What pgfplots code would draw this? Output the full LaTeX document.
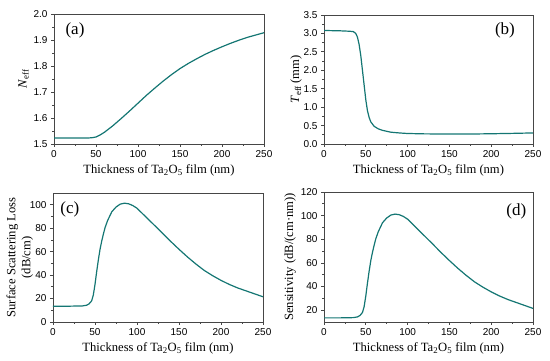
\documentclass[border=0pt]{standalone}
\usepackage{pgfplots}
\pgfplotsset{compat=1.18}
\usepackage{fontspec}
\setmainfont{Liberation Serif}
\newfontfamily\arial{Liberation Sans}
\definecolor{tealcol}{RGB}{20,118,115}
\definecolor{axgray}{RGB}{70,70,70}
\pgfplotsset{
 panel/.style={
  scale only axis, width=210pt, height=130pt,
  axis line style={axgray, line width=0.9pt},
  xmin=0, xmax=250, xtick={0,50,...,250}, minor x tick num=1, minor y tick num=1,
  tick align=outside, tick pos=left,
  major tick length=3pt, minor tick length=2pt,
  every tick/.style={axgray, line width=0.8pt},
  tick label style={font=\arial\fontsize{10}{12}\selectfont},
  /pgf/number format/assume math mode=true,
  label style={font=\fontsize{12.6}{15}\selectfont},
  xlabel={Thickness of Ta\textsubscript{2}O\textsubscript{5} film (nm)},
 },
 crv/.style={tealcol, line width=1.2pt, mark=none},
}
\tikzset{plab/.style={font=\fontsize{17}{19}\selectfont}}
\pgfplotstableread{
x y
0 13.5
20 13.5
35 13.7
40 14.3
43 15.5
46 18
48 23
50 32
52 43
54 53
56 62
58 69
60 75
62 80.5
65 86.5
70 94
75 98
80 100.5
85 101.3
90 100.8
95 99.3
100 97
110 90
120 83
130 76
140 68.8
150 62
160 55.5
170 49.5
180 44
190 39.5
200 35.5
210 32
220 29
230 26.5
240 24
250 21.5
}\losstab
\begin{document}
\begin{tikzpicture}
\path[use as bounding box] (0,0) rectangle (550pt,361pt);
% (a)
\begin{axis}[panel, at={(54pt,217pt)}, anchor=south west, width=210pt, height=130pt,
  ymin=1.5, ymax=2.0, ytick={1.5,1.6,...,2.01},
  yticklabel style={/pgf/number format/.cd, fixed, fixed zerofill, precision=1},
  ylabel shift=-2pt,
  ylabel={\textit{N}\textsubscript{eff}}]
\addplot[crv] coordinates {(0,1.523)(20,1.523)(40,1.523)(45,1.524)(50,1.527)(55,1.535)(60,1.545)(70,1.570)(80,1.598)(90,1.627)(100,1.657)(110,1.687)(120,1.715)(130,1.742)(140,1.767)(150,1.790)(160,1.810)(170,1.828)(180,1.845)(190,1.860)(200,1.874)(210,1.887)(220,1.899)(230,1.910)(240,1.919)(250,1.928)};
\node[plab] at (rel axis cs:0.1,0.877) {(a)};
\end{axis}
% (b)
\begin{axis}[panel, at={(324pt,217pt)}, anchor=south west, width=209pt, height=129pt,
  ymin=0, ymax=3.5, ytick={0,0.5,...,3.51},
  yticklabel style={/pgf/number format/.cd, fixed, fixed zerofill, precision=1},
  ylabel shift=-5pt,
  ylabel={\textit{T}\textsubscript{eff}\,(mm)}]
\addplot[crv] coordinates {(0,3.08)(10,3.075)(20,3.07)(30,3.06)(35,3.05)(38,3.0)(40,2.9)(42,2.7)(44,2.4)(46,2.0)(48,1.6)(50,1.2)(52,0.9)(54,0.72)(56,0.6)(60,0.48)(65,0.41)(70,0.37)(80,0.32)(90,0.30)(100,0.285)(120,0.275)(150,0.27)(180,0.272)(200,0.278)(225,0.288)(250,0.30)};
\node[plab] at (rel axis cs:0.866,0.877) {(b)};
\end{axis}
% (c)
\begin{axis}[panel, at={(53pt,39pt)}, anchor=south west, width=210pt, height=129pt,
  ymin=0, ymax=110, ytick={0,20,...,100},
  ylabel shift=-12pt,
  ylabel={\begin{tabular}{@{}c@{}}Surface Scattering Loss\\[0pt](dB/cm)\end{tabular}}]
\addplot[crv] table[x=x,y=y] {\losstab};
\node[plab] at (rel axis cs:0.08,0.87) {(c)};
\end{axis}
% (d)
\begin{axis}[panel, at={(324pt,39pt)}, anchor=south west, width=209pt, height=130pt,
  ymin=10, ymax=120, ytick={20,40,...,120},
  ylabel shift=-2pt,
  ylabel={Sensitivity (dB/(cm·nm))}]
\addplot[crv] table[x=x,y=y] {\losstab};
\node[plab] at (rel axis cs:0.92,0.85) {(d)};
\end{axis}
\end{tikzpicture}
\end{document}
